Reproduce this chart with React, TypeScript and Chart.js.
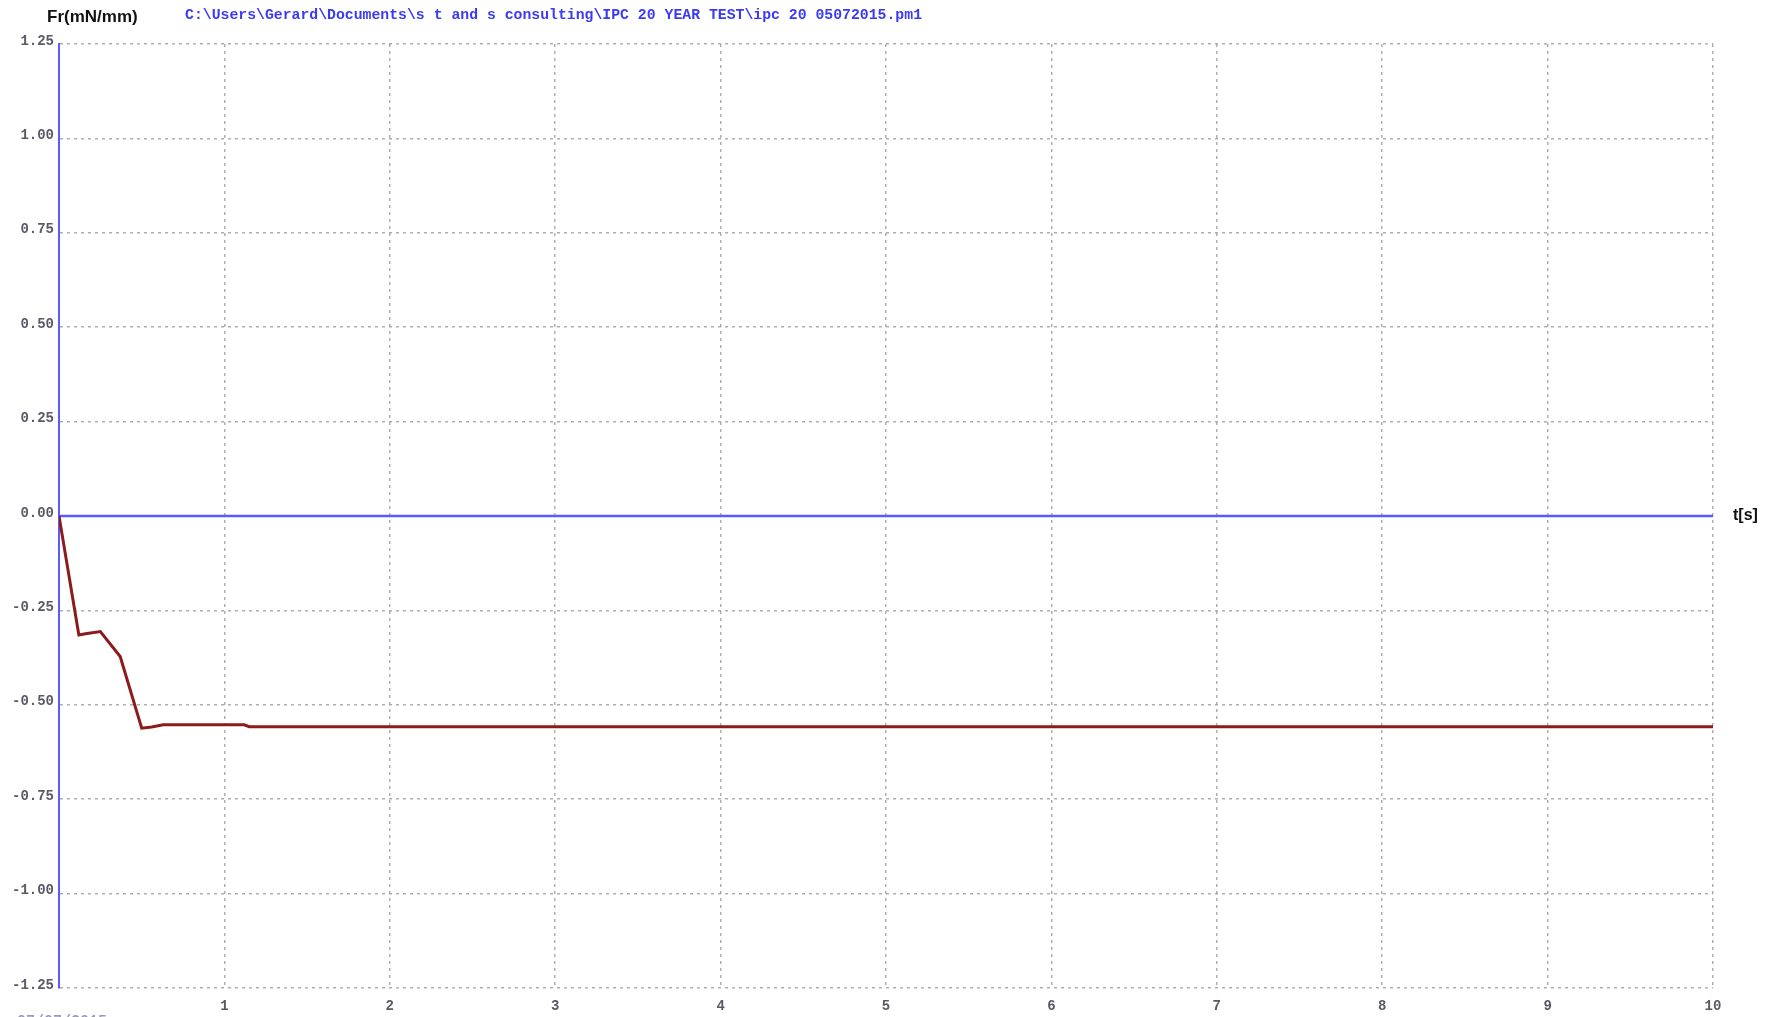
import React, { useEffect, useRef } from "react";
import { Chart, registerables } from "chart.js";

Chart.register(...registerables);

// Measured force trace over time
const times = [0, 0.12, 0.16, 0.25, 0.37, 0.5, 0.56, 0.63, 1.12, 1.15, 10];
const force = [0, -0.315, -0.312, -0.306, -0.372, -0.562, -0.559, -0.553, -0.553, -0.558, -0.558];

// Zero reference line across the time range
const zeroTimes = [0, 10];
const zeroValues = [0, 0];

const yTicks = [-1.25, -1.0, -0.75, -0.5, -0.25, 0, 0.25, 0.5, 0.75, 1.0, 1.25];
const xTicks = [0, 1, 2, 3, 4, 5, 6, 7, 8, 9, 10];

const yAxisTitle = "Fr(mN/mm)";
const xAxisTitle = "t[s]";
const filePath = "C:\\Users\\Gerard\\Documents\\s t and s consulting\\IPC 20 YEAR TEST\\ipc 20 05072015.pm1";
const dateText = "07/07/2015";

const W = 1768;
const H = 1017;

const BLUE = "#5a5aff";
const RED = "#8c1c1c";
const GRID = "rgba(155,155,155,0.8)";
const MONO = "'Liberation Mono', 'Courier New', monospace";
const SANS = "'Liberation Sans', Arial, sans-serif";

const textPlugin = {
  id: "chartTexts",
  afterDraw(chart: any) {
    const ctx = chart.ctx;
    const x = chart.scales.x;
    const y = chart.scales.y;
    ctx.save();
    ctx.textBaseline = "middle";

    ctx.fillStyle = "#111";
    ctx.font = `bold 17px ${SANS}`;
    ctx.textAlign = "left";
    ctx.fillText(yAxisTitle, 47, 17);

    ctx.fillStyle = "#3b3bf2";
    ctx.font = `bold 14.8px ${MONO}`;
    ctx.fillText(filePath, 185, 15);

    ctx.fillStyle = "#111";
    ctx.font = `bold 16px ${SANS}`;
    ctx.fillText(xAxisTitle, x.getPixelForValue(10) + 20, y.getPixelForValue(0));

    ctx.fillStyle = "#9a9ab8";
    ctx.font = `bold 15px ${MONO}`;
    ctx.textBaseline = "top";
    ctx.fillText(dateText, 17, 1014);
    ctx.restore();
  },
};

export default function App() {
  const canvasRef = useRef<HTMLCanvasElement | null>(null);

  useEffect(() => {
    if (!canvasRef.current) return;
    const chart = new Chart(canvasRef.current, {
      type: "line",
      data: {
        datasets: [
          {
            label: "Fr",
            data: times.map((t, i) => ({ x: t, y: force[i] })),
            borderColor: RED,
            borderWidth: 3,
            pointRadius: 0,
            tension: 0,
            order: 0,
          },
          {
            label: "zero",
            data: zeroTimes.map((t, i) => ({ x: t, y: zeroValues[i] })),
            borderColor: BLUE,
            borderWidth: 2.5,
            pointRadius: 0,
            order: 1,
          },
        ],
      },
      options: {
        responsive: false,
        animation: false,
        layout: { padding: { top: 44, right: 55, left: 0, bottom: 0 } },
        plugins: { legend: { display: false }, tooltip: { enabled: false } },
        scales: {
          x: {
            type: "linear",
            min: 0,
            max: 10,
            afterFit: (s: any) => {
              s.height = 29;
            },
            afterBuildTicks: (s: any) => {
              s.ticks = xTicks.map((v) => ({ value: v }));
            },
            ticks: {
              autoSkip: false,
              maxRotation: 0,
              padding: 10,
              color: "#5a5a66",
              font: { family: MONO, size: 14, weight: "bold" },
              callback: (v: any) => (Number(v) === 0 ? "" : String(v)),
            },
            grid: {
              drawTicks: false,
              lineWidth: 1.5,
              color: (c: any) => (c.tick && c.tick.value === 0 ? "rgba(0,0,0,0)" : GRID),
            },
            border: { display: false, dash: [3, 4] },
          },
          y: {
            type: "linear",
            min: -1.25,
            max: 1.25,
            afterFit: (s: any) => {
              s.width = 59;
            },
            afterBuildTicks: (s: any) => {
              s.ticks = yTicks.map((v) => ({ value: v }));
            },
            ticks: {
              autoSkip: false,
              padding: 5,
              labelOffset: -3,
              color: "#5a5a66",
              font: { family: MONO, size: 14, weight: "bold" },
              callback: (v: any) => Number(v).toFixed(2),
            },
            grid: {
              drawTicks: false,
              lineWidth: 1.5,
              color: (c: any) => (c.tick && c.tick.value === 0 ? "rgba(0,0,0,0)" : GRID),
            },
            border: { display: true, color: BLUE, width: 2, dash: [3, 4] },
          },
        },
      },
      plugins: [textPlugin],
    } as any);
    return () => chart.destroy();
  }, []);

  return (
    <div style={{ position: "fixed", left: 0, top: 0, width: W, height: H, background: "#fff" }}>
      <canvas ref={canvasRef} width={W} height={H} style={{ display: "block" }} />
    </div>
  );
}
